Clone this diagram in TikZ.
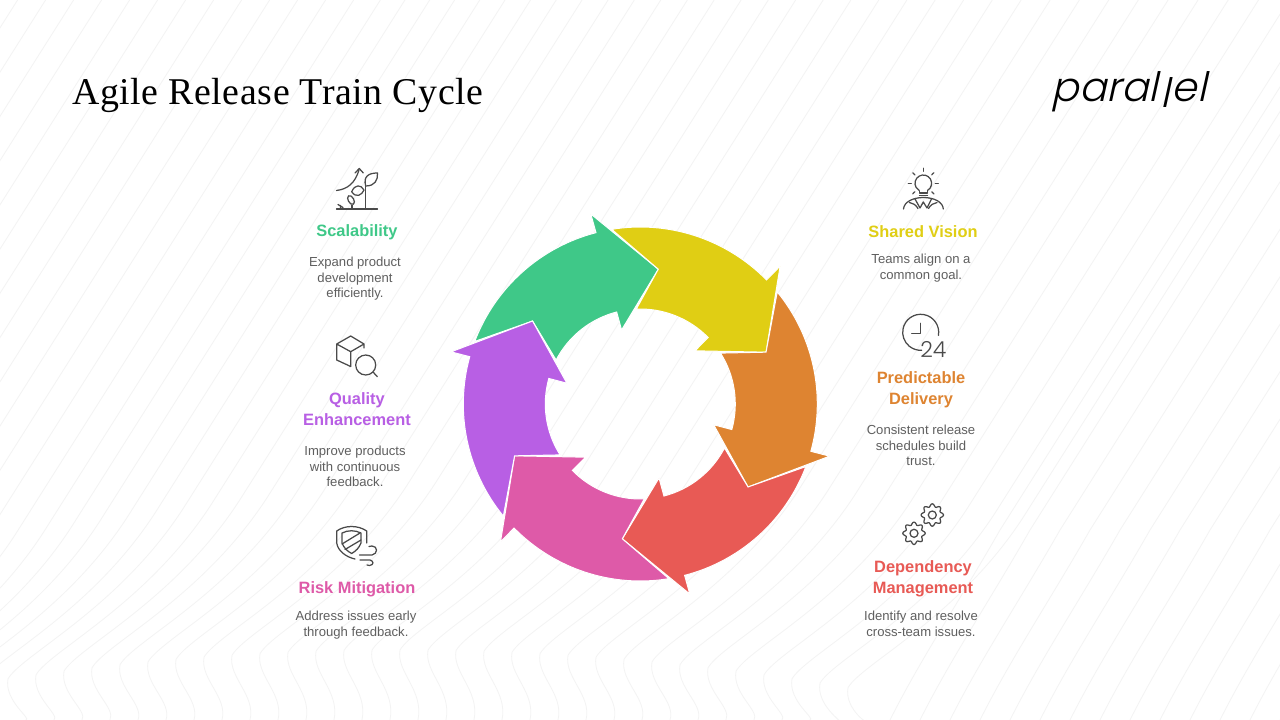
\documentclass[tikz,border=0pt]{standalone}
\usepackage{fontspec}
\setmainfont{Liberation Sans}
\newfontfamily\titlefont{Liberation Serif}[LetterSpace=1.6]
\newfontfamily\logofont{Poppins Light}[FakeSlant=0.22]
\newfontfamily\digitfont{Poppins Light}
\definecolor{cgreen}{HTML}{3FC888}
\definecolor{cyellow}{HTML}{E0CE14}
\definecolor{corange}{HTML}{DE8431}
\definecolor{cred}{HTML}{E85A55}
\definecolor{cpink}{HTML}{DE5AA8}
\definecolor{cpurple}{HTML}{B85FE4}
\definecolor{ctext}{HTML}{5F5F5F}
\definecolor{cicon}{HTML}{4A4A4A}
\definecolor{cwave}{HTML}{F3F3F3}
\tikzset{
	headlabel/.style={font=\bfseries\fontsize{16.4}{21}\selectfont, align=center, inner sep=0pt},
	bodylabel/.style={font=\fontsize{13.1}{15.5}\selectfont, text=ctext, align=center, inner sep=0pt},
	iconline/.style={draw=cicon, line width=1.25pt, line cap=round, line join=round},
	waveline/.style={draw=cwave, line width=0.8pt}
}

\begin{document}
\begin{tikzpicture}[x=1pt, y=-1pt]
	\useasboundingbox (0,0) rectangle (1280,720);
	\fill[white] (0,0) rectangle (1280,720);
	\begin{scope}
		\clip (0,0) rectangle (1280,720);
		\foreach \cx in {-720,-692,...,860} {
			\pgfmathsetmacro{\cy}{min(705,650+30*((\cx-400)/400)^2)}
			\draw[waveline] (\cx+18,720) .. controls (\cx+24,{\cy+40}) and (\cx-4,{\cy+22}) .. (\cx,\cy)
				.. controls (\cx+14,{\cy-24}) and (\cx+110,{\cy-70}) .. (\cx+175,{\cy-170})
				-- ({\cx+175+(\cy-170)/1.58},0);
		}
		\foreach \s in {890,920,...,1290}
			\draw[waveline] (\s,720) .. controls (\s+30,660) and (\s+70,600) .. (\s+110,530) -- (\s+445,0);
	\end{scope}

	\node[anchor=west, inner sep=0pt, font=\titlefont\fontsize{37.8}{40}\selectfont] (title) at (72,95) {Agile Release Train Cycle};
	\node[inner sep=0pt, font=\logofont\fontsize{40.5}{41}\selectfont] (logo) at (1129,92) {paral\kern2.5pt\raisebox{-6pt}{l}\kern2.5pt el};

	\begin{scope}[shift={(640.3,404)}]
		\foreach \colr [count=\i from 0] in {cgreen,cyellow,corange,cred,cpink,cpurple} {
			\pgfmathsetmacro{\r}{60*\i}
			\fill[\colr, draw=white, line width=1pt, line join=miter]
				({\r-159.3}:177) arc[start angle={\r-159.3}, end angle={\r-104.5}, radius=177]
				-- ({\r-104.6}:196.4) -- ({\r-82.4}:136) -- ({\r-104.2}:76.3) -- ({\r-104.4}:95)
				arc[start angle={\r-104.4}, end angle={\r-152.4}, radius=95]
				-- ({\r-142.4}:136) -- cycle;
		}
	\end{scope}

	\draw[iconline] (336.5,209) -- (377.5,209);
	\draw[iconline] (365.7,209) -- (365.7,181);
	\draw[iconline] (365.7,186) .. controls (363,176) and (369,173) .. (377.5,173) .. controls (378,180) and (375,186) .. (365.7,186);
	\draw[iconline] (351.7,191.7) .. controls (355,184) and (361,184.5) .. (364,190) .. controls (362,195) and (356,198.5) .. (351.7,191.7);
	\draw[iconline] (336.5,190.5) .. controls (348,189) and (355,183) .. (359,170);
	\draw[iconline] (355,173) -- (359.3,168.5) -- (363.3,173);
	\draw[iconline] (352,209) -- (352,205);
	\draw[iconline, rotate around={30:(351,200)}] (351,200) ellipse[x radius=2.8, y radius=4.8];
	\draw[iconline] (340.5,209) -- (340.5,205.5) (338,204.5) -- (343,207.5);

	\draw[iconline] (350.7,336) -- (364,344) -- (364,348) (350.7,336) -- (336.7,344) -- (336.7,360) -- (350.7,366.5) (336.7,344) -- (350.7,351.7) -- (364,344) (350.7,351.7) -- (350.7,366.5);
	\draw[iconline] (365.7,365) circle[radius=10];
	\draw[iconline] (373.3,372.3) -- (377.3,376.7);

	\draw[iconline] (366.7,543) -- (366.7,531) .. controls (358,525) and (345,525) .. (336.7,531) -- (336.7,543) .. controls (338,551) and (346,557) .. (355,559);
	\draw[iconline] (342,533) .. controls (348,530) and (355,530) .. (361,533) -- (361,543) .. controls (359,548) and (356,551) .. (351.7,553.5) .. controls (347,551) and (344,548) .. (342,543) -- cycle;
	\draw[iconline] (342,544) -- (360,533) (345,549.5) -- (361,540);
	\draw[iconline] (359.5,555) -- (372,555) .. controls (378,554) and (378,546) .. (372,546) -- (369,546.5);
	\draw[iconline] (360,560) -- (370,560) .. controls (374,561) and (374,565) .. (369.5,565.5) -- (367,565);

	\draw[iconline] ([shift={(60:8.3)}]923.3,183.3) arc[start angle=60, end angle=-240, radius=8.3];
	\draw[iconline] (919.5,191) -- (919.5,193) -- (927.5,193) -- (927.5,191) (919.5,195.5) -- (927.5,195.5);
	\foreach \a in {0,45,135,180,225,270,315}
		\draw[iconline] ([shift={(\a:12)}]923.3,183.3) -- ([shift={(\a:15)}]923.3,183.3);
	\draw[iconline] (903.5,209) .. controls (904,202) and (913,197.5) .. (923.3,197.5) .. controls (934,197.5) and (943,202) .. (943.3,209);
	\draw[iconline] (915,199) -- (920,208) -- (923.3,202) -- (927,208) -- (931.5,199);
	\draw[iconline] (909.5,202.5) .. controls (913,203) and (916,205) .. (918,208.5) (937,202.5) .. controls (933.5,203) and (930.5,205) .. (928.5,208.5);

	\draw[iconline] ([shift={(10:18)}]920.7,332.3) arc[start angle=10, end angle=-273, radius=18];
	\draw[iconline] (920.7,323.3) -- (920.7,333.3) -- (911.7,333.3);
	\node[inner sep=0pt, text=cicon, font=\digitfont\fontsize{22}{22}\selectfont] (clockdigits) at (933.3,349) {24};

	\foreach \gx/\gy in {932.3/515,914/533.3} {
		\draw[iconline, shift={(\gx,\gy)}] plot[domain=0:360, samples=97, smooth] (\x:{9.8+1.4*cos(8*\x)});
		\draw[iconline] (\gx,\gy) circle[radius=4];
	}

	\node[headlabel, text=cgreen] (scalehead) at (357,232) {Scalability};
	\node[bodylabel] (scalebody) at (355,279) {Expand product\\development\\efficiently.};
	\node[headlabel, text=cpurple] (qualityhead) at (357,409) {Quality\\Enhancement};
	\node[bodylabel] (qualitybody) at (355,466.5) {Improve products\\with continuous\\feedback.};
	\node[headlabel, text=cpink] (riskhead) at (357,589) {Risk Mitigation};
	\node[bodylabel] (riskbody) at (356,625) {Address issues early\\through feedback.};
	\node[headlabel, text=cyellow] (visionhead) at (923,232) {Shared Vision};
	\node[bodylabel] (visionbody) at (921,268) {Teams align on a\\common goal.};
	\node[headlabel, text=corange] (deliveryhead) at (921,390) {Predictable\\Delivery};
	\node[bodylabel] (deliverybody) at (921,445.5) {Consistent release\\schedules build\\trust.};
	\node[headlabel, text=cred] (dependhead) at (923,579) {Dependency\\Management};
	\node[bodylabel] (dependbody) at (921,624) {Identify and resolve\\cross-team issues.};
\end{tikzpicture}
\end{document}
